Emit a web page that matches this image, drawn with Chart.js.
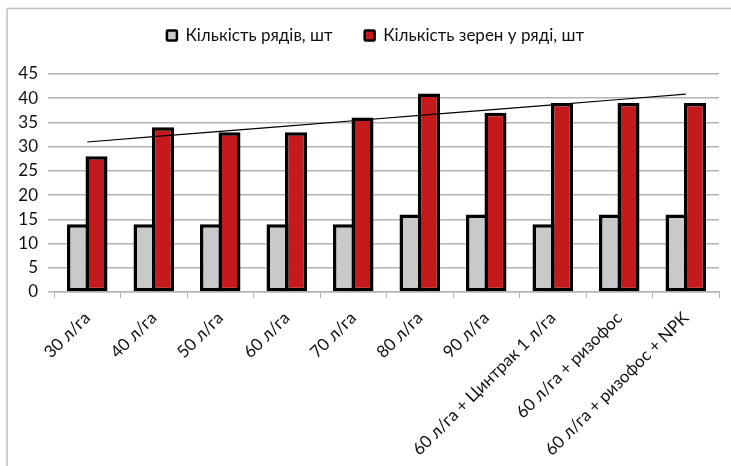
<!DOCTYPE html>
<html>
<head>
<meta charset="utf-8">
<script src="https://cdn.jsdelivr.net/npm/chart.js@4"></script>
<style>
  html, body { margin: 0; padding: 0; background: #fff; }
  #wrap { width: 731px; height: 466px; position: relative; }
</style>
</head>
<body>
<div id="wrap"><canvas id="c"></canvas></div>
<script>
// Categories (application rates / treatments)
const categories = [
  '30 л/га', '40 л/га', '50 л/га', '60 л/га', '70 л/га', '80 л/га', '90 л/га',
  '60 л/га + Цинтрак 1 л/га', '60 л/га + ризофос', '60 л/га + ризофос + NPK'
];
// Series values
const rowsCount = [14, 14, 14, 14, 14, 16, 16, 14, 16, 16];
const grainsPerRow = [28, 34, 33, 33, 36, 41, 37, 39, 39, 39];
const seriesNames = ['Кількість рядів, шт', 'Кількість зерен у ряді, шт'];
// Y axis ticks
const yTicks = [0, 5, 10, 15, 20, 25, 30, 35, 40, 45];

// Linear trend (least squares) of grains per row over category index
function linearTrend(values) {
  const n = values.length;
  const xs = values.map((_, i) => i + 1);
  const mx = xs.reduce((a, b) => a + b, 0) / n;
  const my = values.reduce((a, b) => a + b, 0) / n;
  let sxy = 0, sxx = 0;
  xs.forEach((x, i) => { sxy += (x - mx) * (values[i] - my); sxx += (x - mx) * (x - mx); });
  const k = sxy / sxx, b = my - k * mx;
  return xs.map(x => k * x + b);
}
const grainsTrend = linearTrend(grainsPerRow);

const FONT = 'Lato, "Open Sans", sans-serif';
const GRID = '#b3b3b3';
const TEXT = '#111';

// Thin grey frame on the left and top edges
const framePlugin = {
  id: 'frame',
  beforeDraw(chart) {
    const ctx = chart.ctx;
    ctx.save();
    ctx.strokeStyle = '#c0c0c0';
    ctx.lineWidth = 1.5;
    ctx.beginPath();
    ctx.moveTo(7, chart.height + 2);
    ctx.lineTo(7, 8.5);
    ctx.lineTo(chart.width + 2, 8.5);
    ctx.stroke();
    ctx.restore();
  }
};

// Fix legend band height and nudge it horizontally
const legendPlugin = {
  id: 'legendBand',
  beforeInit(chart) {
    const legend = chart.legend;
    if (!legend) return;
    const fit = legend.fit;
    legend.fit = function () {
      fit.call(this);
      this.height = 79;
    };
  },
  afterLayout(chart) {
    const legend = chart.legend;
    if (legend) { legend.left += 16; legend.right += 16; }
  }
};

const barStyle = {
  borderColor: '#000',
  borderWidth: 3.5,
  borderSkipped: false,
  categoryPercentage: 0.556,
  barPercentage: 1.19
};

new Chart(document.getElementById('c'), {
  type: 'bar',
  data: {
    labels: categories,
    datasets: [
      Object.assign({ label: seriesNames[0], data: rowsCount, backgroundColor: '#c8c9cb' }, barStyle),
      Object.assign({ label: seriesNames[1], data: grainsPerRow, backgroundColor: '#c41a1c' }, barStyle),
      {
        type: 'line',
        label: 'trend',
        data: grainsTrend,
        borderColor: '#000',
        borderWidth: 1.2,
        pointRadius: 0,
        fill: false,
        tension: 0,
        order: -1
      }
    ]
  },
  options: {
    responsive: true,
    maintainAspectRatio: false,
    animation: false,
    devicePixelRatio: 1,
    layout: { padding: { left: 0, right: 12, top: -5, bottom: 0 } },
    plugins: {
      tooltip: { enabled: false },
      legend: {
        position: 'top',
        align: 'center',
        labels: {
          font: { family: FONT, size: 17 },
          color: TEXT,
          boxWidth: 10,
          boxHeight: 10,
          padding: 32,
          generateLabels(chart) {
            return Chart.defaults.plugins.legend.labels.generateLabels(chart)
              .filter(l => l.datasetIndex < 2)
              .map(l => Object.assign(l, { lineWidth: 2.5, borderRadius: 1 }));
          }
        }
      }
    },
    scales: {
      x: {
        offset: true,
        grid: {
          offset: true,
          drawOnChartArea: false,
          drawTicks: true,
          tickLength: 6,
          color: GRID
        },
        border: { display: true, color: GRID, width: 1.5 },
        ticks: {
          font: { family: FONT, size: 17 },
          color: TEXT,
          minRotation: 45,
          maxRotation: 45,
          autoSkip: false,
          padding: 10
        },
        afterFit(scale) { scale.height = 174; }
      },
      y: {
        min: yTicks[0],
        max: yTicks[yTicks.length - 1],
        grid: { color: GRID, lineWidth: 1.5, tickLength: 6 },
        border: { display: false },
        afterBuildTicks(scale) { scale.ticks = yTicks.map(v => ({ value: v })); },
        ticks: {
          font: { family: FONT, size: 17 },
          color: TEXT,
          padding: 10
        },
        afterFit(scale) { scale.width = 54; }
      }
    }
  },
  plugins: [framePlugin, legendPlugin]
});
</script>
</body>
</html>
